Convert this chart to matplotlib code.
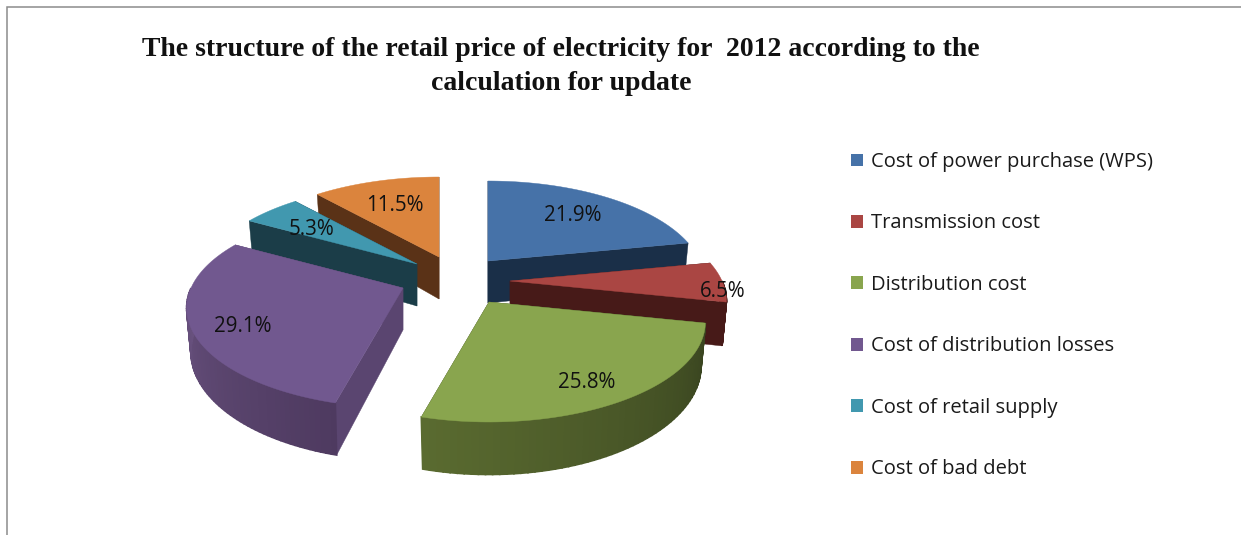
import numpy as np
import matplotlib
matplotlib.use("Agg")
import matplotlib.pyplot as plt
from matplotlib.colors import to_rgb
from matplotlib.patches import Patch

# ---- data
categories = ["Cost of power purchase (WPS)", "Transmission cost", "Distribution cost",
              "Cost of distribution losses", "Cost of retail supply", "Cost of bad debt"]
shares = [21.9, 6.5, 25.8, 29.1, 5.3, 11.5]
title_text = ("The structure of the retail price of electricity for  2012 according to the\n"
              "calculation for update")

# ---- style
top_colors = ["#4672A8", "#AA4643", "#89A54E", "#71588F", "#4198AF", "#DB843D"]
side_colors = ["#1A2F48", "#471A18", "#36421D", "#5A4570", "#1B3D48", "#5A3217"]
arc_start = ["#1A2F48", "#471A18", "#38431F", "#4E3A60", "#1B3D48", "#5A3217"]
arc_end = ["#1A2F48", "#471A18", "#5A6B30", "#69527F", "#1B3D48", "#5A3217"]
apex = [(488, 261), (510, 281), (489, 302), (403, 288), (417, 264), (439, 257)]
label_r = [0.7, 1.0, 0.77, 0.77, 0.7, 0.67]
label_dy = [1, 10, 8, 8, 4, 2]
draw_order = [5, 4, 3, 0, 1, 2]
RX, RY, K, DEPTH, SHRINK = 212.0, 96.0, 0.2, 42.0, 0.98

fig = plt.figure(figsize=(12.41, 5.35), dpi=100, facecolor="white")
ax = fig.add_axes([0, 0, 1, 1])
ax.set_xlim(0, 1241)
ax.set_ylim(535, 0)
ax.axis("off")

ax.plot([6.5, 6.5, 1241], [535, 7, 7], color="#8C8C8C", lw=1.1, solid_joinstyle="miter", zorder=1)


def project(a, b, ang, r=1.0, bottom=False):
    """Disc angle (degrees clockwise from top) to picture coordinates."""
    t = np.radians(ang)
    u, v = r * np.sin(t), r * np.cos(t)
    p = 1.0 / (1.0 + K * v)
    dx, dy = RX * u * p, -RY * v * p
    if bottom:
        return a + SHRINK * dx, b + dy + DEPTH * p
    return a + dx, b + dy


values = np.asarray(shares, dtype=float)
edges = np.concatenate([[0], np.cumsum(values)]) / values.sum() * 360.0

z = 2
for i in draw_order:
    a, b = apex[i]
    a0, a1 = edges[i], edges[i + 1]
    # flat cut faces
    for ang in (a0, a1):
        x0, y0 = project(a, b, ang)
        x1, y1 = project(a, b, ang, bottom=True)
        ab = project(a, b, ang, r=0, bottom=True)
        ax.fill([a, x0, x1, ab[0]], [b, y0, y1, ab[1]], color=side_colors[i], lw=0.3, zorder=z)
    # rim, only on the near half of the disc
    lo, hi = max(a0, 90.0), min(a1, 270.0)
    if hi > lo:
        grid = np.linspace(lo, hi, 60)
        c0, c1 = np.array(to_rgb(arc_start[i])), np.array(to_rgb(arc_end[i]))
        for j in range(len(grid) - 1):
            xt, yt = project(a, b, grid[j:j + 2])
            xb, yb = project(a, b, grid[j:j + 2], bottom=True)
            f = (j + 0.5) / (len(grid) - 1)
            col = c0 + (c1 - c0) * f
            ax.fill([xt[0], xt[1], xb[1], xb[0]], [yt[0], yt[1], yb[1], yb[0]],
                    color=col, lw=1.2, zorder=z)
    # top surface
    grid = np.linspace(a0, a1, 80)
    xs, ys = project(a, b, grid)
    ax.fill(np.r_[a, xs], np.r_[b, ys], color=top_colors[i], lw=0.3, zorder=z)
    z += 1

for i, share in enumerate(shares):
    mid = (edges[i] + edges[i + 1]) / 2
    x, y = project(apex[i][0], apex[i][1], mid, r=label_r[i])
    ax.text(x, y + label_dy[i], f"{share:.1f}%", ha="center", va="center",
            fontsize=14.8, family="Open Sans", color="#111111", zorder=20)

handles = [Patch(facecolor=c, edgecolor="none") for c in top_colors]
ax.legend(handles, categories, loc="upper left", bbox_to_anchor=(851 / 1241, 1 - 152 / 535),
          frameon=False, prop={"family": "Open Sans", "size": 14.5}, handlelength=0.6,
          handleheight=0.6, handletextpad=0.4, labelspacing=2.06, borderpad=0, borderaxespad=0,
          labelcolor="#1a1a1a")

ax.text(561, 66.5, title_text, ha="center", va="center", family="Liberation Serif",
        fontweight="bold", fontsize=20, linespacing=1.45, color="#111111", zorder=20)

fig.savefig("out.png", dpi=100)
